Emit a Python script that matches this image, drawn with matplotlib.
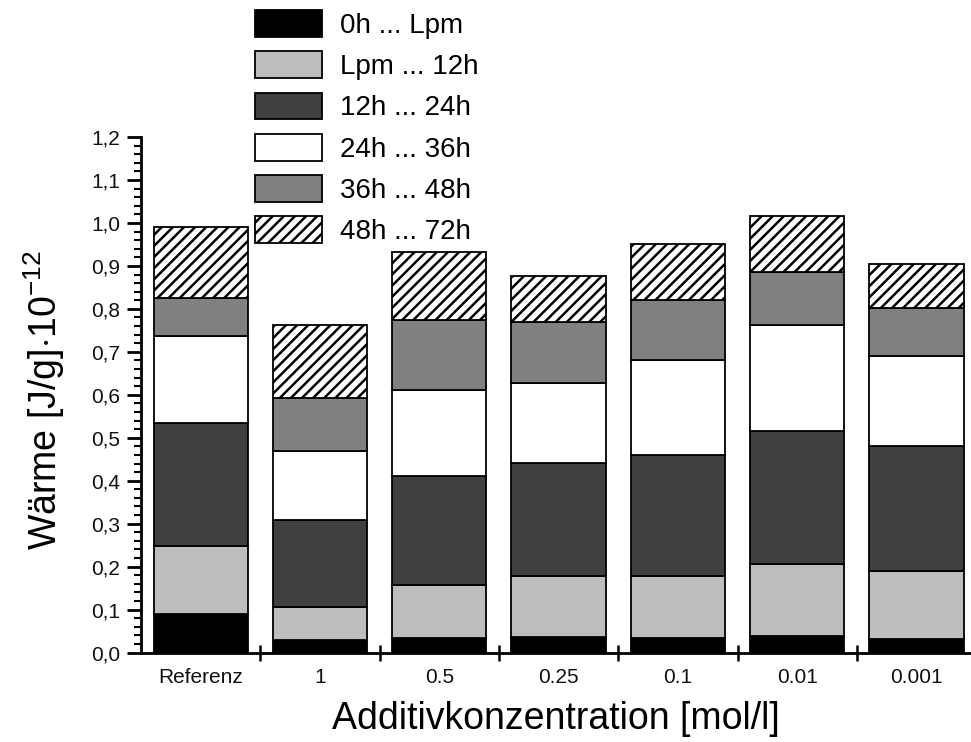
import numpy as np
import matplotlib
matplotlib.use('Agg')
import matplotlib.pyplot as plt

plt.rcParams['font.family'] = ['Liberation Sans', 'DejaVu Sans']
plt.rcParams['mathtext.fontset'] = 'custom'
plt.rcParams['mathtext.rm'] = 'Liberation Sans'
plt.rcParams['mathtext.it'] = 'Liberation Sans'
plt.rcParams['hatch.linewidth'] = 1.8

# Daten (Wärme je Zeitabschnitt, J/g * 1e-12)
categories = ['Referenz', '1', '0.5', '0.25', '0.1', '0.01', '0.001']
series_labels = ['0h ... Lpm', 'Lpm ... 12h', '12h ... 24h', '24h ... 36h', '36h ... 48h', '48h ... 72h']
s_0h_lpm  = [0.090, 0.028, 0.033, 0.035, 0.033, 0.038, 0.031]
s_lpm_12h = [0.158, 0.079, 0.124, 0.143, 0.144, 0.168, 0.159]
s_12h_24h = [0.287, 0.202, 0.253, 0.263, 0.283, 0.309, 0.290]
s_24h_36h = [0.202, 0.159, 0.200, 0.186, 0.222, 0.248, 0.210]
s_36h_48h = [0.088, 0.125, 0.165, 0.142, 0.138, 0.122, 0.112]
s_48h_72h = [0.165, 0.169, 0.158, 0.107, 0.132, 0.131, 0.103]
y_ticks = [0.0, 0.1, 0.2, 0.3, 0.4, 0.5, 0.6, 0.7, 0.8, 0.9, 1.0, 1.1, 1.2]
y_tick_labels = ['0,0', '0,1', '0,2', '0,3', '0,4', '0,5', '0,6', '0,7', '0,8', '0,9', '1,0', '1,1', '1,2']

series = [s_0h_lpm, s_lpm_12h, s_12h_24h, s_24h_36h, s_36h_48h, s_48h_72h]
colors = ['#000000', '#bdbdbd', '#404040', '#ffffff', '#808080', '#ffffff']
hatches = [None, None, None, None, None, '///']

fig = plt.figure(figsize=(9.71, 7.42), dpi=100)
ax = fig.add_axes([0.1452, 0.1206, 0.8548, 0.6947])

x = np.arange(len(categories))
bottom = np.zeros(len(categories))
for vals, lab, col, h in zip(series, series_labels, colors, hatches):
    vals = np.array(vals)
    ax.bar(x, vals, width=0.79, bottom=bottom, color=col, edgecolor='black',
           linewidth=1.3, hatch=h, label=lab)
    bottom += vals

ax.set_xlim(-0.5, 6.457)
ax.set_ylim(0, 1.2)

ax.spines['top'].set_visible(False)
ax.spines['right'].set_visible(False)
ax.spines['left'].set_linewidth(2)
ax.spines['bottom'].set_linewidth(2)

ax.set_yticks(y_ticks, y_tick_labels)
ax.set_yticks(np.arange(0, 1.2001, 0.02), minor=True)
ax.tick_params(axis='y', which='major', direction='out', length=10, width=2,
               labelsize=15, pad=5, colors='black', labelcolor='#111111')
ax.tick_params(axis='y', which='minor', direction='out', length=5, width=1.5)

ax.set_xticks(x, categories)
ax.set_xticks(np.arange(0.5, 6.5, 1.0), minor=True)
ax.tick_params(axis='x', which='major', length=0, labelsize=15, pad=11, labelcolor='#111111')
ax.tick_params(axis='x', which='minor', direction='inout', length=12, width=1.8)

ax.set_xlabel('Additivkonzentration [mol/l]', fontsize=27)
ax.xaxis.set_label_coords(0.5, -0.095)
ax.set_ylabel('Wärme [J/g]$\\cdot$10$^{-12}$', fontsize=27)
ax.yaxis.set_label_coords(-0.089, 0.49)

ax.legend(loc='upper left', bbox_to_anchor=(0.2626, 0.9865), bbox_transform=fig.transFigure,
          frameon=False, fontsize=20, handlelength=2.4, handleheight=1.1,
          labelspacing=0.45, handletextpad=0.65, borderaxespad=0, borderpad=0)

fig.savefig('out.png', dpi=100)
